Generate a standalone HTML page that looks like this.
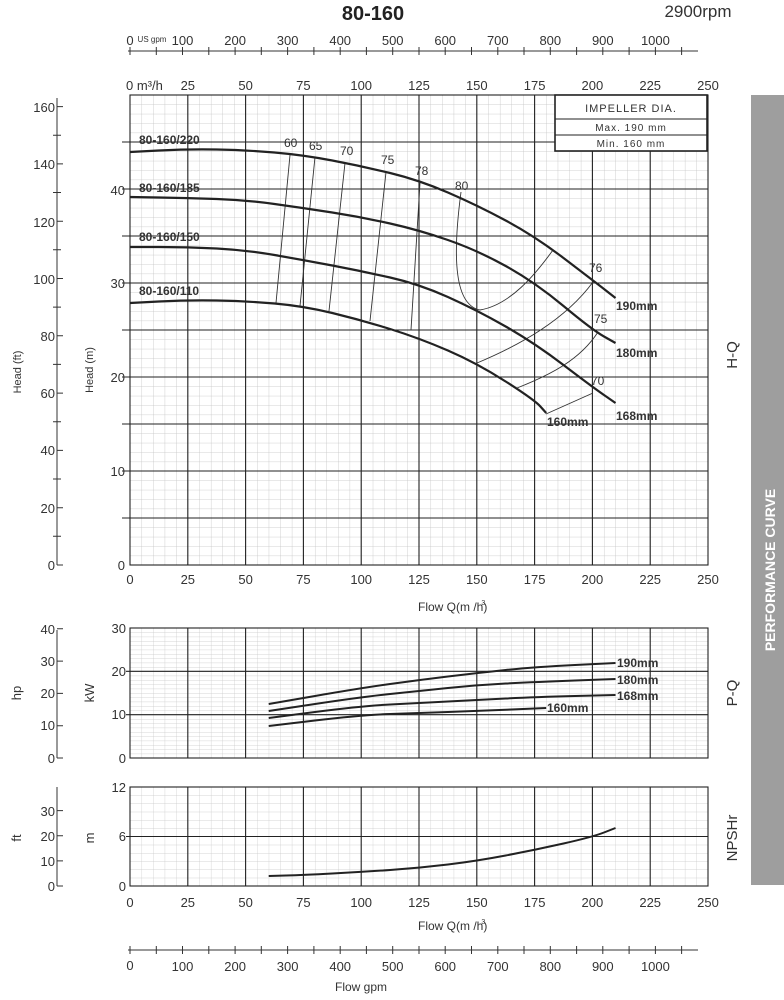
<!DOCTYPE html>
<html><head><meta charset="utf-8"><style>
html,body{margin:0;padding:0;background:#fff;}
svg{display:block;font-family:"Liberation Sans",sans-serif;}
</style></head><body>
<svg width="784" height="1000" viewBox="0 0 784 1000" xmlns="http://www.w3.org/2000/svg">
<defs>
<pattern id="gm" x="130" y="95" width="11.56" height="9.4" patternUnits="userSpaceOnUse">
<path d="M0 0V9.4M0 0H11.56" stroke="#c4c4c4" stroke-width="0.8" fill="none"/></pattern>
<pattern id="gp" x="130" y="628" width="11.56" height="4.333" patternUnits="userSpaceOnUse">
<path d="M0 0V4.333M0 0H11.56" stroke="#c8c8c8" stroke-width="0.7" fill="none"/></pattern>
<pattern id="gn" x="130" y="787" width="11.56" height="8.25" patternUnits="userSpaceOnUse">
<path d="M0 0V8.25M0 0H11.56" stroke="#c8c8c8" stroke-width="0.7" fill="none"/></pattern>
</defs>

<text x="373" y="20" font-size="20" font-weight="bold" fill="#222" text-anchor="middle">80-160</text>
<text x="698" y="17" font-size="17" fill="#333" text-anchor="middle">2900rpm</text>

<g stroke="#333" stroke-width="1">
<line x1="128" y1="51" x2="698" y2="51"/>
<path d="M130 47v8M156.3 47v8M182.5 47v8M208.8 47v8M235.1 47v8M261.3 47v8M287.6 47v8M313.9 47v8M340.2 47v8M366.4 47v8M392.7 47v8M419 47v8M445.2 47v8M471.5 47v8M497.8 47v8M524 47v8M550.3 47v8M576.6 47v8M602.8 47v8M629.1 47v8M655.4 47v8M681.6 47v8"/>
</g>
<g font-size="13" fill="#333" text-anchor="middle">
<text x="130" y="45">0</text>
<text x="152" y="42" font-size="8">US gpm</text>
<text x="182.5" y="45">100</text><text x="235.1" y="45">200</text><text x="287.6" y="45">300</text>
<text x="340.2" y="45">400</text><text x="392.7" y="45">500</text><text x="445.2" y="45">600</text>
<text x="497.8" y="45">700</text><text x="550.3" y="45">800</text><text x="602.8" y="45">900</text>
<text x="655.4" y="45">1000</text>
</g>
<g font-size="13" fill="#333" text-anchor="middle">
<text x="126" y="90" text-anchor="start">0 m³/h</text>
<text x="187.8" y="90">25</text><text x="245.6" y="90">50</text><text x="303.4" y="90">75</text>
<text x="361.2" y="90">100</text><text x="419" y="90">125</text><text x="476.8" y="90">150</text>
<text x="534.6" y="90">175</text><text x="592.4" y="90">200</text><text x="650.2" y="90">225</text>
<text x="708" y="90">250</text>
</g>

<rect x="130" y="95" width="578" height="470" fill="url(#gm)"/>
<g stroke="#222" stroke-width="1.1">
<path d="M187.8 95V565M245.6 95V565M303.4 95V565M361.2 95V565M419 95V565M476.8 95V565M534.6 95V565M592.4 95V565M650.2 95V565"/>
<path d="M122 142H708M122 189H708M122 236H708M122 283H708M122 330H708M122 377H708M122 424H708M122 471H708M122 518H708"/>
<rect x="130" y="95" width="578" height="470" fill="none"/>
</g>
<g font-size="13" fill="#333" text-anchor="end">
<text x="125" y="195">40</text><text x="125" y="288">30</text><text x="125" y="382">20</text>
<text x="125" y="476">10</text><text x="125" y="570">0</text>
</g>
<g font-size="13" fill="#333" text-anchor="middle">
<text x="130" y="584">0</text><text x="187.8" y="584">25</text><text x="245.6" y="584">50</text><text x="303.4" y="584">75</text>
<text x="361.2" y="584">100</text><text x="419" y="584">125</text><text x="476.8" y="584">150</text>
<text x="534.6" y="584">175</text><text x="592.4" y="584">200</text><text x="650.2" y="584">225</text>
<text x="708" y="584">250</text>
</g>
<text x="418" y="611" font-size="12" fill="#333">Flow Q(m /h)<tspan font-size="7" dy="-6" dx="-6">3</tspan></text>

<g stroke="#333" stroke-width="1">
<line x1="57" y1="98" x2="57" y2="565"/>
<path d="M57 565h6M53 536.3h8M57 507.7h6M53 479h8M57 450.4h6M53 421.7h8M57 393.1h6M53 364.4h8M57 335.8h6M53 307.1h8M57 278.5h6M53 249.8h8M57 221.2h6M53 192.5h8M57 163.9h6M53 135.2h8M57 106.6h6"/>
</g>
<g font-size="13" fill="#333" text-anchor="end">
<text x="55" y="570">0</text><text x="55" y="513">20</text><text x="55" y="455">40</text>
<text x="55" y="398">60</text><text x="55" y="341">80</text><text x="55" y="284">100</text>
<text x="55" y="227">120</text><text x="55" y="169">140</text><text x="55" y="112">160</text>
</g>
<text transform="translate(21,372) rotate(-90)" font-size="11" fill="#333" text-anchor="middle">Head (ft)</text>
<text transform="translate(93,370) rotate(-90)" font-size="11" fill="#333" text-anchor="middle">Head (m)</text>

<g stroke="#222" fill="#fff">
<rect x="555" y="95" width="152" height="56" stroke-width="1.6"/>
<line x1="555" y1="119" x2="707" y2="119"/><line x1="555" y1="135" x2="707" y2="135"/>
</g>
<g font-size="11" fill="#333" text-anchor="middle" letter-spacing="1">
<text x="631" y="112">IMPELLER DIA.</text>
<text x="631" y="131" font-size="10">Max. 190 mm</text>
<text x="631" y="147" font-size="10">Min. 160 mm</text>
</g>

<g stroke="#333" stroke-width="0.9" fill="none">
<path d="M290 155L276 303"/><path d="M315 157L300 306"/><path d="M345 163L329 311"/>
<path d="M386 172L370 321"/><path d="M420 183L411 330"/>
<path d="M461 192C452 260 455 305 480 310C510 305 535 275 553 250"/>
<path d="M477 363C520 345 565 320 593 282"/>
<path d="M517 388C550 375 580 360 598 332"/>
<path d="M546 414L593 393"/>
</g>
<g font-size="12" fill="#333">
<text x="284" y="147">60</text><text x="309" y="150">65</text><text x="340" y="155">70</text>
<text x="381" y="164">75</text><text x="415" y="175">78</text><text x="455" y="190">80</text>
<text x="589" y="272">76</text><text x="594" y="323">75</text><text x="591" y="385">70</text>
</g>

<g stroke="#222" stroke-width="2.2" fill="none" stroke-linejoin="round">
<path d="M130 152L158.9 150.5Q187.8 149 216.7 149.5Q245.6 150 274.5 152.5Q303.4 155 332.3 160.5Q361.2 166 390.1 173Q419 180 447.9 192.5Q476.8 205 505.7 220.5Q534.6 236 563.5 258Q592.4 280 604 289L615.5 298"/>
<path d="M130 197L158.9 197.5Q187.8 198 216.7 199Q245.6 200 274.5 204Q303.4 208 332.3 212.5Q361.2 217 390.1 223.5Q419 230 447.9 240Q476.8 250 505.7 266Q534.6 282 563.5 306Q592.4 330 604 336.5L615.5 343"/>
<path d="M130 247L158.9 247Q187.8 247 216.7 248.5Q245.6 250 274.5 255Q303.4 260 332.3 265.5Q361.2 271 390.1 277.5Q419 284 447.9 297Q476.8 310 505.7 326.5Q534.6 343 563.5 365Q592.4 387 604 395L615.5 403"/>
<path d="M130 303L158.9 301.5Q187.8 300 216.7 300.5Q245.6 301 274.5 303.5Q303.4 306 332.3 313Q361.2 320 390.1 329Q419 338 447.9 350.5Q476.8 363 505.7 381.5Q534.6 400 540.4 406.5L546.2 413"/>
</g>
<g font-size="12" font-weight="bold" fill="#333">
<text x="139" y="144">80-160/220</text><text x="139" y="192">80-160/185</text>
<text x="139" y="241">80-160/150</text><text x="139" y="295">80-160/110</text>
<text x="616" y="310">190mm</text><text x="616" y="357">180mm</text>
<text x="616" y="420">168mm</text><text x="547" y="426">160mm</text>
</g>

<rect x="130" y="628" width="578" height="130" fill="url(#gp)"/>
<g stroke="#222" stroke-width="1.1">
<path d="M187.8 628V758M245.6 628V758M303.4 628V758M361.2 628V758M419 628V758M476.8 628V758M534.6 628V758M592.4 628V758M650.2 628V758"/>
<path d="M126 671.3H708M126 714.7H708"/>
<rect x="130" y="628" width="578" height="130" fill="none"/>
</g>
<g font-size="13" fill="#333" text-anchor="end">
<text x="126" y="633">30</text><text x="126" y="676">20</text><text x="126" y="719">10</text><text x="126" y="763">0</text>
</g>
<g stroke="#333" stroke-width="1">
<line x1="57" y1="630" x2="57" y2="758"/>
<path d="M57 758h6M57 725.7h6M57 693.4h6M57 661.1h6M57 628.8h6"/>
</g>
<g font-size="13" fill="#333" text-anchor="end">
<text x="55" y="763">0</text><text x="55" y="730">10</text><text x="55" y="698">20</text>
<text x="55" y="666">30</text><text x="55" y="634">40</text>
</g>
<text transform="translate(21,693) rotate(-90)" font-size="13" fill="#333" text-anchor="middle">hp</text>
<text transform="translate(94,693) rotate(-90)" font-size="13" fill="#333" text-anchor="middle">kW</text>
<g stroke="#222" stroke-width="2" fill="none" stroke-linejoin="round">
<path d="M268.7 704L315 696Q361.2 688 390.1 684Q419 680 447.9 676.5Q476.8 673 505.7 670Q534.6 667 575 665L615.5 663"/>
<path d="M268.7 711L315 704Q361.2 697 390.1 694Q419 691 447.9 688Q476.8 685 505.7 683.5Q534.6 682 575 680.5L615.5 679"/>
<path d="M268.7 718L315 712Q361.2 706 390.1 704.5Q419 703 447.9 701.5Q476.8 700 505.7 698.5Q534.6 697 575 696L615.5 695"/>
<path d="M268.7 726L315 720.5Q361.2 715 390.1 714Q419 713 447.9 712Q476.8 711 511.5 709.5L546.2 708"/>
</g>
<g font-size="12" font-weight="bold" fill="#333">
<text x="617" y="667">190mm</text><text x="617" y="684">180mm</text>
<text x="617" y="700">168mm</text><text x="547" y="712">160mm</text>
</g>

<rect x="130" y="787" width="578" height="99" fill="url(#gn)"/>
<g stroke="#222" stroke-width="1.1">
<path d="M187.8 787V886M245.6 787V886M303.4 787V886M361.2 787V886M419 787V886M476.8 787V886M534.6 787V886M592.4 787V886M650.2 787V886"/>
<path d="M126 836.5H708"/>
<rect x="130" y="787" width="578" height="99" fill="none"/>
</g>
<g font-size="13" fill="#333" text-anchor="end">
<text x="126" y="792">12</text><text x="126" y="841">6</text><text x="126" y="891">0</text>
</g>
<g stroke="#333" stroke-width="1">
<line x1="57" y1="787" x2="57" y2="886"/>
<path d="M57 886h6M57 860.9h6M57 835.7h6M57 810.6h6"/>
</g>
<g font-size="13" fill="#333" text-anchor="end">
<text x="55" y="891">0</text><text x="55" y="866">10</text><text x="55" y="841">20</text><text x="55" y="816">30</text>
</g>
<text transform="translate(21,838) rotate(-90)" font-size="13" fill="#333" text-anchor="middle">ft</text>
<text transform="translate(94,838) rotate(-90)" font-size="13" fill="#333" text-anchor="middle">m</text>
<path d="M268.7 876L286 875.5Q303.4 875 332.3 873.5Q361.2 872 390.1 870Q419 868 447.9 864.5Q476.8 861 505.7 855.5Q534.6 850 563.5 843.5Q592.4 837 604 832.5L615.5 828" stroke="#222" stroke-width="2" fill="none"/>
<g font-size="13" fill="#333" text-anchor="middle">
<text x="130" y="907">0</text><text x="187.8" y="907">25</text><text x="245.6" y="907">50</text><text x="303.4" y="907">75</text>
<text x="361.2" y="907">100</text><text x="419" y="907">125</text><text x="476.8" y="907">150</text>
<text x="534.6" y="907">175</text><text x="592.4" y="907">200</text><text x="650.2" y="907">225</text>
<text x="708" y="907">250</text>
</g>
<text x="418" y="930" font-size="12" fill="#333">Flow Q(m /h)<tspan font-size="7" dy="-6" dx="-6">3</tspan></text>

<g stroke="#333" stroke-width="1">
<line x1="128" y1="950" x2="698" y2="950"/>
<path d="M130 946v8M156.3 946v8M182.5 946v8M208.8 946v8M235.1 946v8M261.3 946v8M287.6 946v8M313.9 946v8M340.2 946v8M366.4 946v8M392.7 946v8M419 946v8M445.2 946v8M471.5 946v8M497.8 946v8M524 946v8M550.3 946v8M576.6 946v8M602.8 946v8M629.1 946v8M655.4 946v8M681.6 946v8"/>
</g>
<g font-size="13" fill="#333" text-anchor="middle">
<text x="130" y="970">0</text>
<text x="182.5" y="971">100</text><text x="235.1" y="971">200</text><text x="287.6" y="971">300</text>
<text x="340.2" y="971">400</text><text x="392.7" y="971">500</text><text x="445.2" y="971">600</text>
<text x="497.8" y="971">700</text><text x="550.3" y="971">800</text><text x="602.8" y="971">900</text>
<text x="655.4" y="971">1000</text>
</g>
<text x="335" y="991" font-size="12" fill="#333">Flow  gpm</text>

<rect x="751" y="95" width="33" height="790" fill="#9e9e9e"/>
<text transform="translate(775,570) rotate(-90)" font-size="14" font-weight="bold" fill="#fff" text-anchor="middle">PERFORMANCE CURVE</text>
<text transform="translate(737,355) rotate(-90)" font-size="15" fill="#333" text-anchor="middle">H-Q</text>
<text transform="translate(737,693) rotate(-90)" font-size="15" fill="#333" text-anchor="middle">P-Q</text>
<text transform="translate(737,838) rotate(-90)" font-size="15" fill="#333" text-anchor="middle">NPSHr</text>
</svg>
</body></html>
